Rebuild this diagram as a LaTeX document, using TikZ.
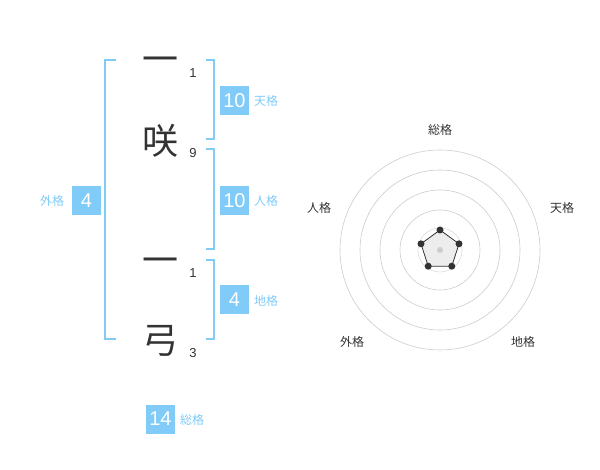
\documentclass[tikz,border=0pt]{standalone}
\usepackage{fontspec}
\setmainfont{Liberation Sans}
\newfontfamily\jp{Noto Sans CJK JP}
\definecolor{kblue}{RGB}{128,203,247}
\definecolor{kdark}{RGB}{51,51,51}
\definecolor{kgrid}{RGB}{204,204,204}
\begin{document}
\begin{tikzpicture}[x=1pt,y=-1pt,
  numbox/.style={fill=kblue,text=white,minimum width=29pt,minimum height=29pt,inner sep=0pt,font=\fontsize{20}{20}\selectfont},
  kaku/.style={text=kblue,anchor=west,inner sep=0pt,font=\jp\fontsize{12}{12}\selectfont},
  bigchar/.style={text=kdark,inner sep=0pt,font=\jp\fontsize{36}{36}\selectfont},
  strk/.style={text=kdark,inner sep=0pt,font=\fontsize{13}{13}\selectfont},
  bracket/.style={draw=kblue,line width=1.6pt},
  radlab/.style={text=kdark,inner sep=0pt,font=\jp\fontsize{12}{12}\selectfont},
  ring/.style={draw=kgrid,line width=0.6pt},
  dot/.style={circle,fill=kdark,inner sep=0pt,minimum size=7pt}]
\useasboundingbox (0,0) rectangle (600,470);
% characters
\node[bigchar] (c1) at (160,65) {一};
\node[bigchar] (c2) at (160,141) {咲};
\node[bigchar] (c3) at (160,266) {一};
\node[bigchar] (c4) at (160,341) {弓};
\node[strk] (s1) at (193,73) {1};
\node[strk] (s2) at (193,153) {9};
\node[strk] (s3) at (193,273) {1};
\node[strk] (s4) at (193,353) {3};
% brackets
\draw[bracket] (116,60) -- (105,60) -- (105,339) -- (116,339);
\draw[bracket] (206,60) -- (214,60) -- (214,139) -- (206,139);
\draw[bracket] (206,149) -- (214,149) -- (214,249) -- (206,249);
\draw[bracket] (206,260) -- (214,260) -- (214,339) -- (206,339);
% boxes
\node[numbox] (ten) at (234.5,100.5) {10};
\node[kaku] (tenl) at (254,101) {天格};
\node[numbox] (jin) at (234.5,200.5) {10};
\node[kaku] (jinl) at (254,201) {人格};
\node[numbox] (chi) at (234.5,300) {4};
\node[kaku] (chil) at (254,301) {地格};
\node[numbox] (gai) at (86.5,200.5) {4};
\node[kaku] (gail) at (40,201) {外格};
\node[numbox] (sou) at (160.5,419) {14};
\node[kaku] (soul) at (180,420) {総格};
% radar
\coordinate (rc) at (440,250);
\foreach \r in {100,80,60,40} \draw[ring] (rc) circle (\r pt);
\draw[ring,draw=kgrid!70] (rc) circle (22pt);
\coordinate (p1) at (440,230);
\coordinate (p2) at (459,243.8);
\coordinate (p3) at (451.8,266.2);
\coordinate (p4) at (428.2,266.2);
\coordinate (p5) at (421,243.8);
\draw[fill=black!7,draw=kdark,line width=0.8pt] (p1) -- (p2) -- (p3) -- (p4) -- (p5) -- cycle;
\node[circle,fill=kgrid,inner sep=0pt,minimum size=6pt] (ctr) at (rc) {};
\foreach \p in {p1,p2,p3,p4,p5} \node[dot] (d\p) at (\p) {};
\node[radlab] (r1) at (440,130) {総格};
\node[radlab] (r2) at (562,208) {天格};
\node[radlab] (r3) at (319,208) {人格};
\node[radlab] (r4) at (352,342) {外格};
\node[radlab] (r5) at (523,342) {地格};
\end{tikzpicture}
\end{document}
